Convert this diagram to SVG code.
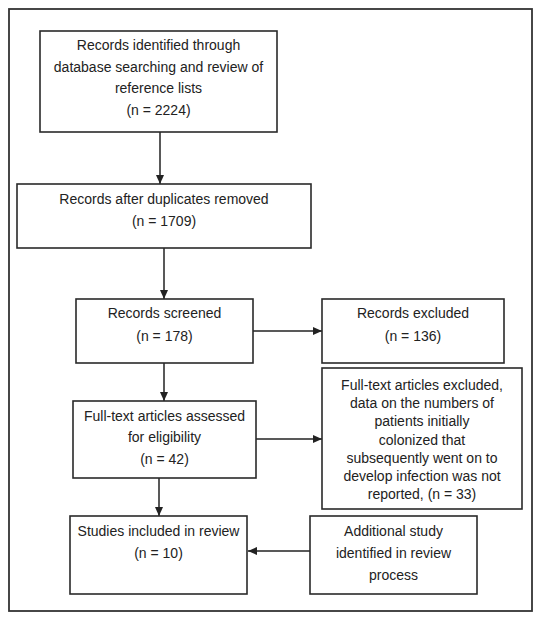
<svg xmlns="http://www.w3.org/2000/svg" width="542" height="621" viewBox="0 0 542 621">
<defs>
<marker id="ah" markerWidth="9" markerHeight="8" refX="9" refY="4" orient="auto" markerUnits="userSpaceOnUse">
<path d="M0,0 L9,4 L0,8 Z" fill="#222"/>
</marker>
<style>
.box{fill:#fff;stroke:#2a2a2a;stroke-width:1.6}
.frame{fill:#fff;stroke:#333;stroke-width:1.8}
.t{font-family:"Liberation Sans",Arial,sans-serif;font-size:14px;fill:#222;text-anchor:middle}
.c{fill:none;stroke:#222;stroke-width:1.5;marker-end:url(#ah)}
</style>
</defs>
<rect width="542" height="621" fill="#fff"/>
<rect class="frame" x="9" y="9" width="523" height="602"/>
<g id="connectors">
<line class="c" x1="160" y1="132" x2="160" y2="184"/>
<line class="c" x1="164" y1="248" x2="164" y2="299"/>
<line class="c" x1="253" y1="331" x2="322" y2="331"/>
<line class="c" x1="164" y1="363" x2="164" y2="401"/>
<line class="c" x1="256" y1="439" x2="322" y2="439"/>
<line class="c" x1="159" y1="478" x2="159" y2="516"/>
<line class="c" x1="310" y1="551" x2="248" y2="551"/>
</g>
<g id="identified">
<rect class="box" x="40" y="31" width="237" height="101"/>
<text class="t" x="158.5" y="50">Records identified through</text>
<text class="t" x="158.5" y="72">database searching and review of</text>
<text class="t" x="158.5" y="93">reference lists</text>
<text class="t" x="158.5" y="115">(n = 2224)</text>
</g>
<g id="duplicates">
<rect class="box" x="17" y="184" width="294" height="64"/>
<text class="t" x="164" y="204">Records after duplicates removed</text>
<text class="t" x="164" y="226">(n = 1709)</text>
</g>
<g id="screened">
<rect class="box" x="76" y="299" width="177" height="64"/>
<text class="t" x="164.5" y="318">Records screened</text>
<text class="t" x="164.5" y="341">(n = 178)</text>
</g>
<g id="excluded">
<rect class="box" x="322" y="299" width="182" height="64"/>
<text class="t" x="413" y="318">Records excluded</text>
<text class="t" x="413" y="341">(n = 136)</text>
</g>
<g id="assessed">
<rect class="box" x="73" y="401" width="183" height="77"/>
<text class="t" x="164.5" y="421">Full-text articles assessed</text>
<text class="t" x="164.5" y="442">for eligibility</text>
<text class="t" x="164.5" y="464">(n = 42)</text>
</g>
<g id="ftexcluded">
<rect class="box" x="322" y="368" width="200" height="141"/>
<text class="t" x="422" y="390">Full-text articles excluded,</text>
<text class="t" x="422" y="408">data on the numbers of</text>
<text class="t" x="422" y="426">patients initially</text>
<text class="t" x="422" y="445">colonized that</text>
<text class="t" x="422" y="463">subsequently went on to</text>
<text class="t" x="422" y="481">develop infection was not</text>
<text class="t" x="422" y="499">reported, (n = 33)</text>
</g>
<g id="included">
<rect class="box" x="70" y="516" width="177" height="78"/>
<text class="t" x="158.5" y="536">Studies included in review</text>
<text class="t" x="158.5" y="558">(n = 10)</text>
</g>
<g id="additional">
<rect class="box" x="310" y="516" width="167" height="78"/>
<text class="t" x="393.5" y="536">Additional study</text>
<text class="t" x="393.5" y="558">identified in review</text>
<text class="t" x="393.5" y="580">process</text>
</g>
</svg>
